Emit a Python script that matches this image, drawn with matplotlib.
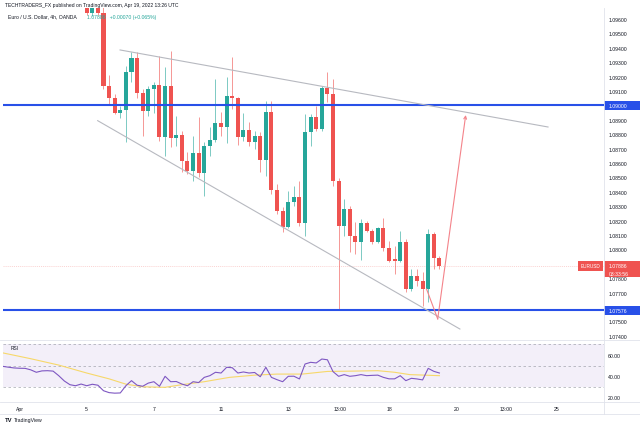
import matplotlib
matplotlib.use("Agg")
import matplotlib.pyplot as plt
import matplotlib.transforms as mtransforms
from matplotlib.patches import Rectangle
from matplotlib.lines import Line2D

# ---------------- data ----------------
bar_index = list(range(64))  # 4h bars, 0 = first bar of Apr 5
opens = [1.09720, 1.09640, 1.09710, 1.09645, 1.09135, 1.09051, 1.08945, 1.08968,
         1.09232, 1.09329, 1.09086, 1.08961, 1.09114, 1.09142, 1.08781, 1.09135,
         1.08774, 1.08794, 1.08614, 1.08544, 1.08670, 1.08530, 1.08718, 1.08760,
         1.08878, 1.08850, 1.09065, 1.09051, 1.08781, 1.08829, 1.08746, 1.08788,
         1.08621, 1.08954, 1.08413, 1.08267, 1.08156, 1.08329, 1.08364, 1.08183,
         1.08815, 1.08920, 1.08836, 1.09121, 1.09079, 1.08475, 1.08163, 1.08281,
         1.08093, 1.08051, 1.08183, 1.08128, 1.08051, 1.08149, 1.08010, 1.07933,
         1.07920, 1.08051, 1.07725, 1.07815, 1.07781, 1.07725, 1.08107, 1.07940]
highs = [1.09760, 1.09740, 1.09750, 1.09700, 1.09211, 1.09079, 1.08996, 1.09274,
         1.09371, 1.09371, 1.09114, 1.09135, 1.09163, 1.09343, 1.09267, 1.09378,
         1.08926, 1.08822, 1.08676, 1.08788, 1.08920, 1.08746, 1.08850, 1.09183,
         1.08954, 1.09197, 1.09336, 1.09058, 1.08947, 1.08885, 1.08822, 1.08815,
         1.09030, 1.09030, 1.08454, 1.08294, 1.08406, 1.08440, 1.08475, 1.08940,
         1.08940, 1.08996, 1.09135, 1.09232, 1.09183, 1.08496, 1.08350, 1.08301,
         1.08191, 1.08211, 1.08197, 1.08142, 1.08156, 1.08218, 1.08058, 1.08024,
         1.08128, 1.08072, 1.07864, 1.07864, 1.07843, 1.08142, 1.08121, 1.07954]
lows = [1.09630, 1.09620, 1.09630, 1.09117, 1.09003, 1.08940, 1.08913, 1.08746,
        1.09163, 1.09051, 1.08788, 1.08926, 1.08944, 1.08753, 1.08649, 1.08711,
        1.08718, 1.08538, 1.08524, 1.08475, 1.08503, 1.08371, 1.08649, 1.08746,
        1.08788, 1.08739, 1.08975, 1.08725, 1.08753, 1.08718, 1.08697, 1.08538,
        1.08510, 1.08385, 1.08246, 1.08121, 1.08149, 1.08301, 1.08163, 1.08093,
        1.08718, 1.08822, 1.08822, 1.09024, 1.08440, 1.07576, 1.08093, 1.07982,
        1.07968, 1.07924, 1.08121, 1.08038, 1.08044, 1.07989, 1.07913, 1.07829,
        1.07913, 1.07704, 1.07711, 1.07746, 1.07607, 1.07635, 1.07864, 1.07864]
closes = [1.09640, 1.09710, 1.09645, 1.09135, 1.09051, 1.08947, 1.08968, 1.09232,
          1.09329, 1.09086, 1.08961, 1.09114, 1.09142, 1.08781, 1.09135, 1.08774,
          1.08794, 1.08614, 1.08544, 1.08670, 1.08530, 1.08718, 1.08760, 1.08878,
          1.08850, 1.09065, 1.09051, 1.08781, 1.08829, 1.08746, 1.08788, 1.08621,
          1.08954, 1.08413, 1.08267, 1.08156, 1.08329, 1.08364, 1.08183, 1.08815,
          1.08920, 1.08836, 1.09121, 1.09079, 1.08475, 1.08163, 1.08281, 1.08093,
          1.08051, 1.08183, 1.08128, 1.08051, 1.08149, 1.08010, 1.07920, 1.07920,
          1.08051, 1.07725, 1.07815, 1.07781, 1.07725, 1.08107, 1.07940, 1.07886]

rsi_index = list(range(-15, 64))
rsi_values = [49.3, 48.5, 47.8, 47.5, 47.4, 46.0, 43.7, 45.0, 45.2, 44.8,
              40.5, 35.5, 32.0, 31.0, 32.6, 31.0, 32.4, 31.5, 26.3, 24.5,
              24.0, 24.2, 31.0, 35.8, 31.5, 30.5, 33.5, 34.8, 30.5, 39.9,
              34.8, 35.0, 32.6, 31.0, 34.8, 34.0, 38.9, 40.5, 43.7, 43.0,
              48.4, 48.0, 43.0, 44.0, 43.0, 43.5, 39.5, 48.4, 38.9, 36.7,
              34.8, 39.9, 40.0, 37.4, 51.5, 53.1, 52.5, 56.2, 55.5, 44.3,
              39.9, 41.5, 39.9, 40.5, 41.5, 40.5, 40.8, 41.0, 38.9, 37.5,
              37.5, 40.5, 35.8, 38.0, 37.4, 36.5, 47.4, 44.6, 43.0]
rsi_ma_index = [-15, -10, -5, 0, 4, 7, 10, 14, 17, 21, 25.5, 30, 34, 38.5, 43,
                47.5, 52, 55, 57.7, 63]
rsi_ma_values = [62.0, 56.5, 50.5, 43.0, 37.5, 32.5, 30.0, 29.5, 32.0, 34.8,
                 38.9, 41.0, 42.0, 42.0, 44.5, 44.8, 45.2, 43.7, 41.5, 40.5]

price_ticks = [1.074, 1.075, 1.076, 1.077, 1.078, 1.079, 1.080, 1.081, 1.082,
               1.083, 1.084, 1.085, 1.086, 1.087, 1.088, 1.089, 1.090, 1.091,
               1.092, 1.093, 1.094, 1.095, 1.096]
hidden_price_ticks = [1.076, 1.079, 1.090]   # covered by the label boxes
rsi_ticks = [20, 40, 60]
rsi_band = [30, 70]
rsi_mid = 50

time_tick_pos = [-12, 0, 12, 24, 36, 45.2, 54, 66, 74.9, 84]
time_tick_labels = ["Apr", "5", "7", "11", "13", "13:00", "18", "20", "13:00", "25"]

level_lines = [1.09000, 1.07576]
last_price = 1.07886
trend_upper_x = [5.96, 82.4]
trend_upper_y = [1.09385, 1.08850]
trend_lower_x = [1.96, 66.66]
trend_lower_y = [1.08894, 1.07447]
path_x = [60.7, 62.7, 67.7]
path_y = [1.07725, 1.07517, 1.08933]

# ---------------- style ----------------
UP = "#26a69a"
DOWN = "#ef5350"
BLUE = "#2850e8"
TXT = "#131722"
BORDER = "#e0e3eb"
FS = 3.7

plt.rcParams['font.family'] = ['Liberation Sans', 'DejaVu Sans']

W, H = 640, 427
fig = plt.figure(figsize=(6.4, 4.27), dpi=100)
fig.patch.set_facecolor("white")


def fx(px):
    return px / W


def fy(py):
    return 1 - py / H


L, R = 3, 604
T_MAIN, B_MAIN, B_RSI, B_TIME = 9, 341, 403, 415

ax = fig.add_axes([fx(L), fy(B_MAIN), (R - L) / W, (B_MAIN - T_MAIN) / H])
axr = fig.add_axes([fx(L), fy(B_RSI), (R - L) / W, (B_RSI - B_MAIN) / H], sharex=ax)

for a in (ax, axr):
    for s in a.spines.values():
        s.set_visible(False)
    a.set_facecolor("white")

# candles
colors = [UP if c >= o else DOWN for o, c in zip(opens, closes)]
bottoms = [min(o, c) for o, c in zip(opens, closes)]
heights = [max(abs(c - o), 0.00004) for o, c in zip(opens, closes)]
ax.vlines(bar_index, lows, highs, colors=colors, linewidth=0.7, alpha=0.6, zorder=2)
ax.bar(bar_index, heights, bottom=bottoms, width=0.72, color=colors, linewidth=0, zorder=3)

ax.set_xlim(-14.95, 92.4)
ax.set_ylim(1.073708, 1.096764)

# level lines
for lv in level_lines:
    ax.axhline(lv, color=BLUE, lw=1.5, zorder=4)
ax.axhline(last_price, color=DOWN, lw=0.5, alpha=0.35, ls=(0, (1.5, 1.5)), zorder=1)

# trend lines
ax.plot(trend_upper_x, trend_upper_y, color="#b7b9c0", lw=0.8, zorder=5)
ax.plot(trend_lower_x, trend_lower_y, color="#b7b9c0", lw=0.8, zorder=5)
ax.plot(path_x[:2], path_y[:2], color="#f4838a", lw=0.8, zorder=5)
ax.annotate("", xy=(path_x[2], path_y[2]), xytext=(path_x[1], path_y[1]),
            arrowprops=dict(arrowstyle="->", color="#f4838a", lw=0.8,
                            shrinkA=0, shrinkB=0, mutation_scale=5), zorder=5)

# right price axis
ax.yaxis.tick_right()
ax.set_yticks(price_ticks)
ax.set_yticklabels(["" if any(abs(t - h) < 1e-9 for h in hidden_price_ticks)
                    else f"{t:.5f}" for t in price_ticks])
ax.tick_params(axis="y", length=0, labelsize=FS, labelcolor=TXT, pad=3)
ax.tick_params(axis="x", length=0, labelbottom=False)

blend = mtransforms.blended_transform_factory(ax.transAxes, ax.transData)
axw = (R - L)
box_w = 36 / axw
px_price = (1.096764 - 1.073708) / (B_MAIN - T_MAIN)
for lv in level_lines:
    ax.add_patch(Rectangle((1.0, lv - 4.5 * px_price), box_w, 9 * px_price,
                           transform=blend, facecolor=BLUE, edgecolor="none",
                           clip_on=False, zorder=10))
    ax.text(1.0 + 5 / axw, lv, f"{lv:.5f}", transform=blend, color="white",
            fontsize=FS, va="center", ha="left", zorder=11, clip_on=False)

# last price labels
ax.add_patch(Rectangle((1.0, last_price - 11.5 * px_price), box_w, 16 * px_price,
                       transform=blend, facecolor=DOWN, edgecolor="none",
                       clip_on=False, zorder=10))
ax.text(1.0 + 5 / axw, last_price, f"{last_price:.5f}", transform=blend, color="white",
        fontsize=FS, va="center", ha="left", zorder=11, clip_on=False)
ax.text(1.0 + 5 / axw, last_price - 7.5 * px_price, "03:33:56", transform=blend,
        color="white", fontsize=FS, va="center", ha="left", zorder=11, clip_on=False)
ax.add_patch(Rectangle((1.0 - 26 / axw, last_price - 5 * px_price), 25 / axw, 10 * px_price,
                       transform=blend, facecolor=DOWN, edgecolor="none",
                       clip_on=False, zorder=10))
ax.text(1.0 - 13.5 / axw, last_price, "EURUSD", transform=blend, color="white",
        fontsize=3.4, va="center", ha="center", zorder=11, clip_on=False)

# RSI pane
axr.set_ylim(15.66, 74.15)
axr.axhspan(rsi_band[0], rsi_band[1], color="#7e57c2", alpha=0.09, lw=0, zorder=0)
for lv in rsi_band + [rsi_mid]:
    axr.axhline(lv, color="#9598a1", lw=0.6, ls=(0, (3, 3)), alpha=0.7, zorder=1)
axr.plot(rsi_ma_index, rsi_ma_values, color="#f7d86a", lw=0.8, zorder=2)
axr.plot(rsi_index, rsi_values, color="#7e57c2", lw=0.8, zorder=3)
axr.yaxis.tick_right()
axr.set_yticks(rsi_ticks)
axr.set_yticklabels([f"{t:.2f}" for t in rsi_ticks])
axr.tick_params(axis="y", length=0, labelsize=FS, labelcolor=TXT, pad=3)
axr.set_xticks(time_tick_pos)
axr.set_xticklabels(time_tick_labels)
axr.tick_params(axis="x", length=0, labelsize=FS, labelcolor=TXT, pad=3)
axr.text(8 / axw, 1 - 7 / (B_RSI - B_MAIN), "RSI", transform=axr.transAxes,
         fontsize=3.5, color=TXT, va="center", ha="left")

# borders
for y in (B_MAIN, B_RSI, B_TIME):
    fig.add_artist(Line2D([0, 1], [fy(y), fy(y)], color=BORDER, lw=0.6))
fig.add_artist(Line2D([fx(R), fx(R)], [fy(T_MAIN), fy(B_TIME)], color=BORDER, lw=0.6))

# header texts
fig.text(fx(5), fy(5), "TECHTRADERS_FX published on TradingView.com, Apr 19, 2022 13:26 UTC",
         fontsize=3.6, color=TXT, va="center", ha="left")
fig.text(fx(8), fy(17), "Euro / U.S. Dollar, 4h, OANDA", fontsize=FS, color=TXT,
         va="center", ha="left", zorder=20)
fig.text(fx(87), fy(17), f"{last_price:.5f}   +0.00070 (+0.065%)", fontsize=FS,
         color=UP, va="center", ha="left", zorder=20)

# footer
fig.text(fx(5), fy(421), "TV", fontsize=4.2, fontweight="bold", color=TXT,
         va="center", ha="left")
fig.text(fx(14), fy(421), "TradingView", fontsize=FS, color=TXT, va="center", ha="left")

fig.savefig("out.png", dpi=100, facecolor="white")
